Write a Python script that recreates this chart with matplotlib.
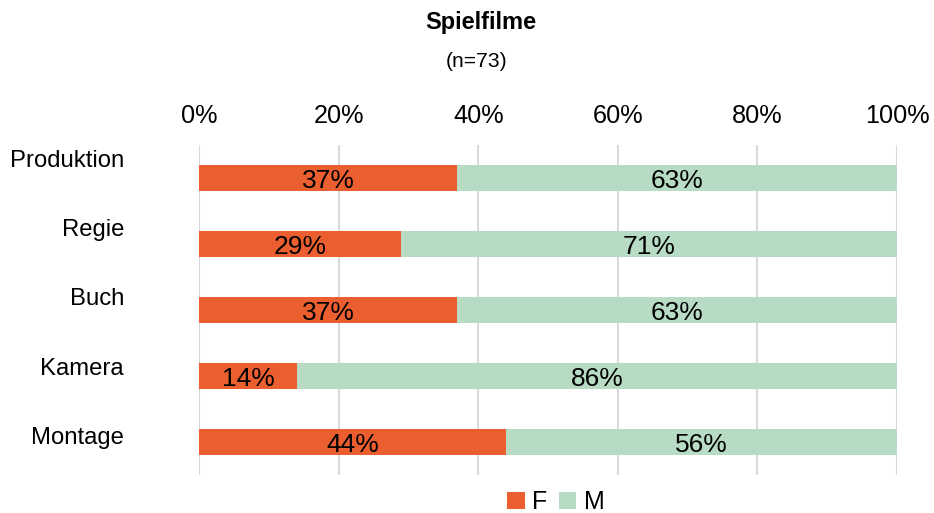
import matplotlib
matplotlib.use("Agg")
import matplotlib.pyplot as plt
import matplotlib.transforms as mtransforms
from matplotlib.ticker import FuncFormatter

plt.rcParams["font.family"] = ["Liberation Sans", "DejaVu Sans"]

categories = ["Produktion", "Regie", "Buch", "Kamera", "Montage"]
share_f = [37, 29, 37, 14, 44]
share_m = [63, 71, 63, 86, 56]
x_ticks = [0, 20, 40, 60, 80, 100]

color_f = "#EB5E30"
color_m = "#B8DBC4"

fig = plt.figure(figsize=(9.34, 5.13), dpi=100)
ax = fig.add_axes([0.2131, 0.0741, 0.7473, 0.6432])

y = list(range(len(categories)))
ax.barh(y, share_f, height=0.4, color=color_f, label="F", zorder=2)
ax.barh(y, share_m, left=share_f, height=0.4, color=color_m, label="M", zorder=2)

# value labels in the middle of each segment
for i, (f, m) in enumerate(zip(share_f, share_m)):
    ax.text(f / 2, i + 0.04, f"{f}%", ha="center", va="center", fontsize=19, color="black", zorder=3)
    ax.text(f + m / 2, i + 0.04, f"{m}%", ha="center", va="center", fontsize=19, color="black", zorder=3)

ax.set_xlim(0, 100)
ax.set_ylim(len(categories) - 0.5, -0.5)
ax.set_xticks(x_ticks)
ax.xaxis.set_major_formatter(FuncFormatter(lambda v, _: f"{v:.0f}%"))
ax.xaxis.tick_top()
ax.tick_params(axis="x", length=0, pad=12, labelsize=18.2)
ax.set_yticks([])
ax.grid(axis="x", color="#D9D9D9", linewidth=1.5, zorder=0)
for s in ax.spines.values():
    s.set_visible(False)

# category names sit above their bars, spaced a little wider than the rows
trans = mtransforms.blended_transform_factory(ax.transAxes, ax.transData)
for i, name in enumerate(categories):
    ax.text(-0.1075, i * 1.05 - 0.26, name, transform=trans,
            ha="right", va="center", fontsize=17.2)

fig.text(0.515, 0.957, "Spielfilme", ha="center", va="center", fontsize=17, fontweight="bold")
fig.text(0.510, 0.881, "(n=73)", ha="center", va="center", fontsize=15.2)

fig.legend(loc="center", bbox_to_anchor=(0.595, 0.0214), ncol=2, frameon=False,
           fontsize=18, handlelength=0.7, handleheight=0.7, handletextpad=0.3,
           columnspacing=0.45, borderpad=0)

fig.savefig("out.png", dpi=100)
